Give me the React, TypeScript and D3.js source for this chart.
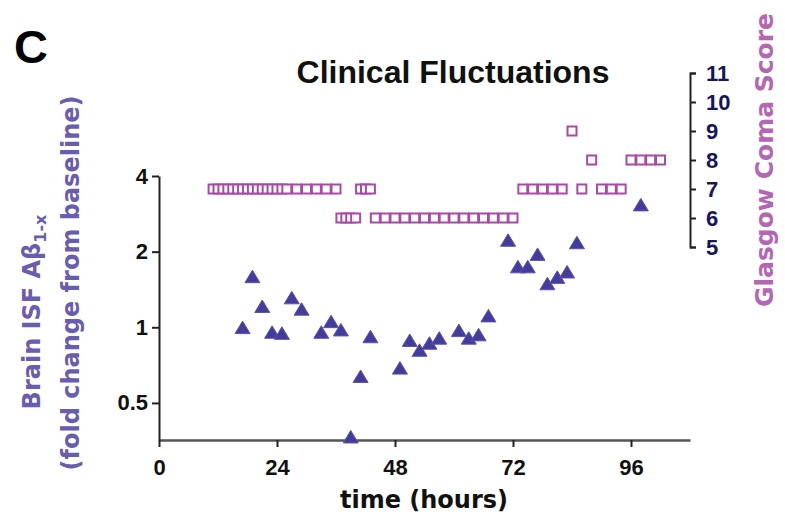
import React, { useEffect, useRef } from "react";
import * as d3 from "d3";

// Brain ISF Aβ (fold change), triangles
const abTime = [17, 19, 21, 23, 25, 27, 29, 33, 35, 37, 39, 41, 43, 49, 51, 53, 55, 57, 61, 63, 65, 67, 71, 73, 75, 77, 79, 81, 83, 85, 98];
const abValue = [0.997, 1.59, 1.21, 0.955, 0.946, 1.31, 1.18, 0.955, 1.053, 0.976, 0.366, 0.637, 0.917, 0.688, 0.886, 0.81, 0.864, 0.905, 0.97, 0.905, 0.933, 1.11, 2.22, 1.74, 1.74, 1.95, 1.49, 1.58, 1.66, 2.17, 3.07];

// Glasgow Coma Score, squares
const gcsTime = [11, 12, 13, 14, 15, 16, 17, 18, 19, 20, 21, 22, 23, 24, 25, 26, 28, 30, 32, 34, 36,
  37, 38, 39, 40, 41, 42, 43,
  44, 46, 48, 50, 52, 54, 56, 58, 60, 62, 64, 66, 68, 70, 72,
  74, 76, 78, 80, 82, 84, 86, 88, 90, 92, 94, 96, 98, 100, 102];
const gcsScore = [7, 7, 7, 7, 7, 7, 7, 7, 7, 7, 7, 7, 7, 7, 7, 7, 7, 7, 7, 7, 7,
  6, 6, 6, 6, 7, 7, 7,
  6, 6, 6, 6, 6, 6, 6, 6, 6, 6, 6, 6, 6, 6, 6,
  7, 7, 7, 7, 7, 9, 7, 8, 7, 7, 7, 8, 8, 8, 8];

const xTicks = [0, 24, 48, 72, 96];
const yLeftTicks = [0.5, 1, 2, 4];
const yRightTicks = [5, 6, 7, 8, 9, 10, 11];

const W = 785;
const H = 523;

export default function App() {
  const ref = useRef<SVGSVGElement>(null);

  useEffect(() => {
    const svg = d3.select(ref.current);
    svg.selectAll("*").remove();

    const x = d3.scaleLinear().domain([0, 108]).range([159, 690]);
    const yL = d3.scaleLog().domain([0.356, 4]).range([440, 176]);
    const yR = d3.scaleLinear().domain([5, 11]).range([247, 73]);

    const font = "Arial, 'Liberation Sans', Helvetica, sans-serif";
    const wide = "'DejaVu Sans', Verdana, sans-serif";
    const tickFs = 22;

    // x axis
    const gx = svg.append("g").attr("transform", "translate(0,440)")
      .call(d3.axisBottom(x).tickValues(xTicks).tickSize(7).tickPadding(12).tickSizeOuter(0));
    gx.select(".domain").attr("stroke", "#555").attr("stroke-width", 2.5);
    gx.selectAll(".tick line").attr("stroke", "#222").attr("stroke-width", 2);
    gx.selectAll(".tick text").attr("font-family", font).attr("font-size", tickFs).attr("font-weight", "bold").attr("fill", "#111");

    // left axis
    const gl = svg.append("g").attr("transform", "translate(159,0)")
      .call(d3.axisLeft(yL).tickValues(yLeftTicks).tickFormat(d3.format("")).tickSize(7).tickPadding(4).tickSizeOuter(0));
    gl.select(".domain").attr("stroke", "#222").attr("stroke-width", 2);
    gl.selectAll(".tick line").attr("stroke", "#222").attr("stroke-width", 2);
    gl.selectAll(".tick text").attr("font-family", font).attr("font-size", tickFs).attr("font-weight", "bold").attr("fill", "#111");

    // right axis
    const gr = svg.append("g").attr("transform", "translate(690,0)")
      .call(d3.axisRight(yR).tickValues(yRightTicks).tickFormat(d3.format("d")).tickSize(6).tickPadding(10).tickSizeOuter(6));
    gr.select(".domain").attr("stroke", "#222").attr("stroke-width", 2);
    gr.selectAll(".tick line").attr("stroke", "#222").attr("stroke-width", 2);
    gr.selectAll(".tick text").attr("font-family", font).attr("font-size", tickFs).attr("font-weight", "bold").attr("fill", "#16165c");

    // squares (GCS)
    const sq = 9;
    svg.append("g").selectAll("rect").data(gcsTime.map((t, i) => [t, gcsScore[i]]))
      .join("rect")
      .attr("x", (d) => x(d[0]) - sq / 2)
      .attr("y", (d) => yR(d[1]) - sq / 2)
      .attr("width", sq).attr("height", sq)
      .attr("fill", "#fff")
      .attr("stroke", "#a84aa8")
      .attr("stroke-width", 2);

    // triangles (Aβ)
    const tri = d3.path();
    tri.moveTo(0, -6.5); tri.lineTo(7.5, 6); tri.lineTo(-7.5, 6); tri.closePath();
    svg.append("g").selectAll("path").data(abTime.map((t, i) => [t, abValue[i]]))
      .join("path")
      .attr("d", tri.toString())
      .attr("transform", (d) => `translate(${x(d[0])},${yL(d[1])})`)
      .attr("fill", "#443c9c")
      .attr("stroke", "#5a52b0")
      .attr("stroke-width", 1);

    // texts
    svg.append("text").attr("x", 14).attr("y", 63).text("C")
      .attr("font-family", font).attr("font-size", 47).attr("font-weight", "bold").attr("fill", "#000");
    svg.append("text").attr("x", 453).attr("y", 83).attr("text-anchor", "middle").text("Clinical Fluctuations")
      .attr("font-family", font).attr("font-size", 32).attr("font-weight", "bold").attr("fill", "#111");
    svg.append("text").attr("x", 424).attr("y", 508).attr("text-anchor", "middle").text("time (hours)")
      .attr("font-family", wide).attr("font-size", 24).attr("font-weight", "bold").attr("fill", "#111");

    const lblFs = 24;
    const l1 = svg.append("text").attr("transform", "translate(40,312) rotate(-90)").attr("text-anchor", "middle")
      .attr("font-family", wide).attr("font-size", lblFs).attr("font-weight", "bold").attr("fill", "#6a5cae");
    l1.append("tspan").text("Brain ISF Aβ");
    l1.append("tspan").attr("font-size", 16).attr("dy", 6).text("1-x");
    svg.append("text").attr("transform", "translate(79,283) rotate(-90)").attr("text-anchor", "middle")
      .attr("font-family", wide).attr("font-size", lblFs).attr("font-weight", "bold").attr("fill", "#6a5cae")
      .text("(fold change from baseline)");

    svg.append("text").attr("transform", "translate(773,160) rotate(-90)").attr("text-anchor", "middle")
      .attr("font-family", wide).attr("font-size", 25).attr("font-weight", "bold").attr("fill", "#b466b4")
      .text("Glasgow Coma Score");
  }, []);

  return (
    <div style={{ position: "absolute", left: 0, top: 0 }}>
      <svg ref={ref} width={W} height={H} style={{ display: "block", background: "#fff" }} />
    </div>
  );
}
